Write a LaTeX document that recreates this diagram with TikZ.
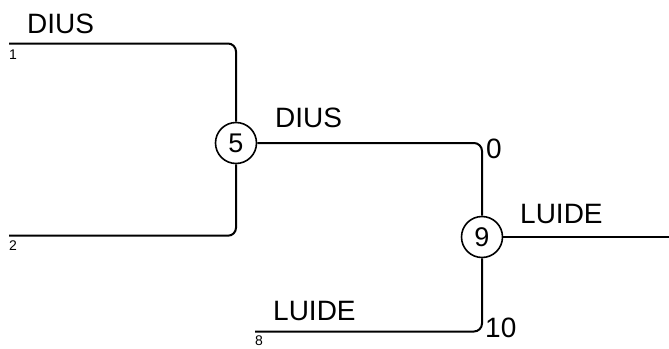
\documentclass[tikz,border=0pt]{standalone}
\usepackage{fontspec}
\setmainfont{Liberation Sans}
\begin{document}
\begin{tikzpicture}[x=1pt,y=-1pt,
  line/.style={line width=2pt,rounded corners=8pt},
  match/.style={circle,draw,line width=1.6pt,minimum size=41pt,inner sep=0pt,font=\fontsize{27}{27}\selectfont},
  big/.style={anchor=base west,inner sep=0pt,font=\fontsize{28}{28}\selectfont},
  small/.style={anchor=base west,inner sep=0pt,font=\fontsize{14}{14}\selectfont}]
\useasboundingbox (0,0) rectangle (669,348);
\node[match] (c5) at (236,143) {5};
\node[match] (c9) at (482,237) {9};
\coordinate (s1) at (9,43.5);
\coordinate (s2) at (9,235.7);
\coordinate (s8) at (255,331.5);
\coordinate (out) at (669,237);
\draw[line] (s1) -| (c5);
\draw[line] (s2) -| (c5);
\draw[line] (c5) -| (c9);
\draw[line] (s8) -| (c9);
\draw[line] (c9) -- (out);
\node[big] (t1) at (27,33) {DIUS};
\node[small] (n1) at (9,59) {1};
\node[small] (n2) at (9,250) {2};
\node[big] (t5) at (275,127) {DIUS};
\node[big] (n0) at (486,158) {0};
\node[big] (t9) at (520,223) {LUIDE};
\node[big] (t8) at (273,320) {LUIDE};
\node[small] (n8) at (255,345) {8};
\node[big] (n10) at (485,337) {10};
\end{tikzpicture}
\end{document}
